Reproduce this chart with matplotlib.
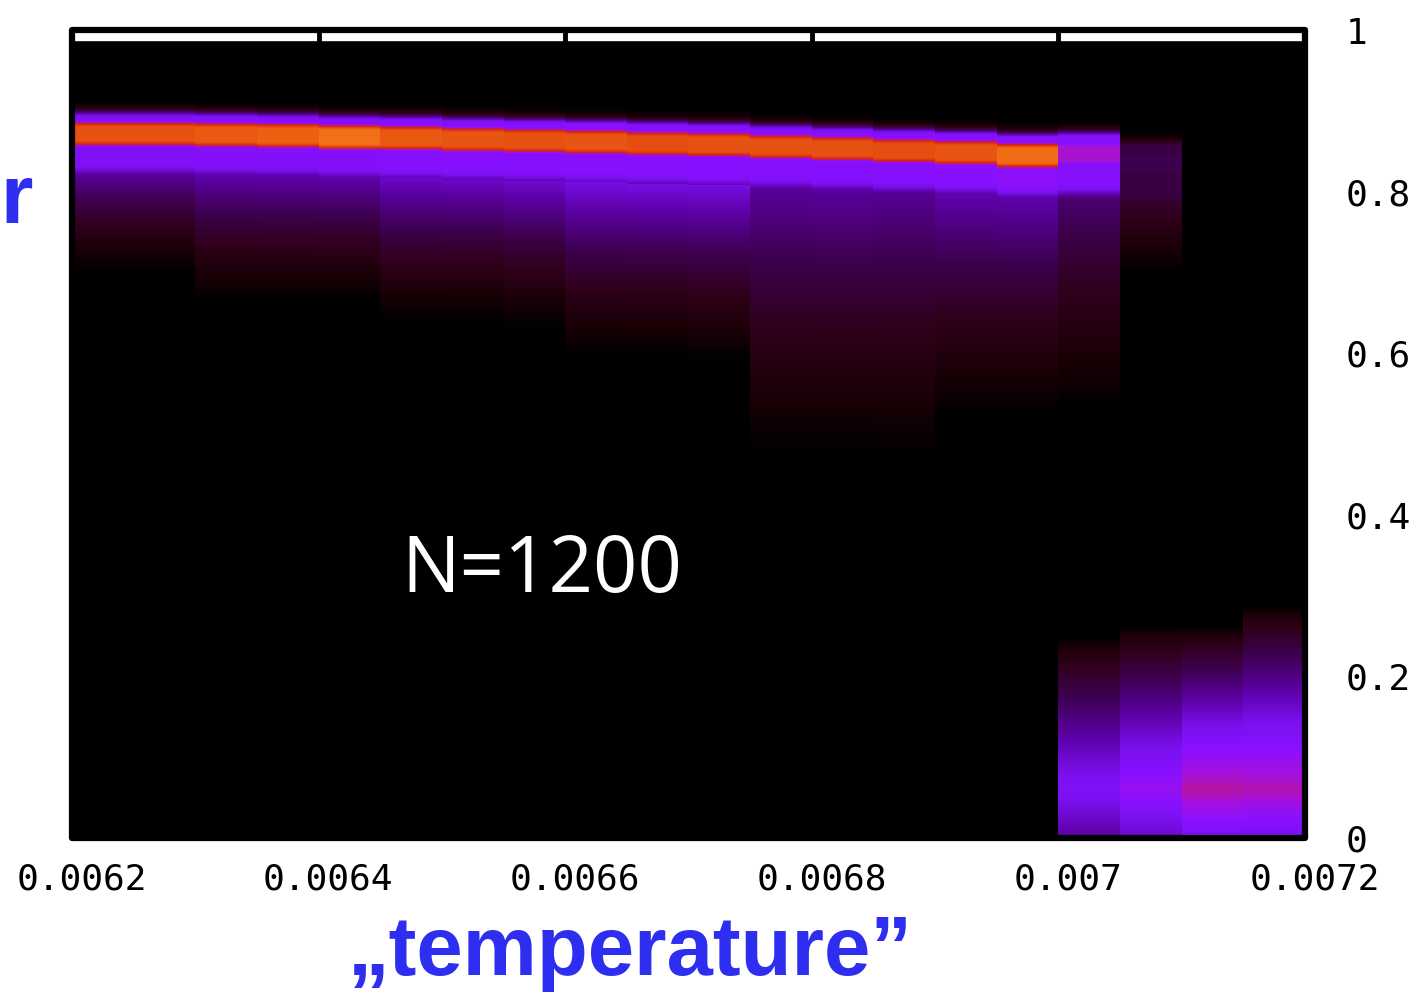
import numpy as np
import matplotlib
matplotlib.use("Agg")
import matplotlib.pyplot as plt
from matplotlib.colors import LinearSegmentedColormap
from matplotlib.patches import Rectangle
from matplotlib.transforms import ScaledTranslation

# temperature bins (20 columns of width 0.00005)
T_MIN = 0.0062
T_MAX = 0.0072
N_COLS = 20

# upper band of each column: position of the bright core, its level,
# the violet halo level, the tail level and where the tail dies out
peak_pos = [0.872, 0.872, 0.871, 0.870, 0.868, 0.867, 0.865, 0.8635, 0.862, 0.860,
            0.8586, 0.856, 0.8536, 0.851, 0.8486, 0.845, 0.847, 0.835, 0.0, 0.0]
peak_val = [0.86, 0.86, 0.88, 0.90, 0.94, 0.88, 0.87, 0.86, 0.87, 0.85,
            0.86, 0.86, 0.86, 0.85, 0.87, 0.93, 0.60, 0.28, 0.0, 0.0]
halo_val = [0.50, 0.50, 0.51, 0.51, 0.51, 0.52, 0.52, 0.52, 0.53, 0.53,
            0.53, 0.52, 0.52, 0.52, 0.53, 0.54, 0.52, 0.26, 0.0, 0.0]
tail_val = [0.38, 0.38, 0.40, 0.40, 0.40, 0.43, 0.43, 0.44, 0.46, 0.46,
            0.46, 0.38, 0.38, 0.37, 0.40, 0.40, 0.33, 0.22, 0.0, 0.0]
tail_end = [0.70, 0.70, 0.665, 0.665, 0.665, 0.64, 0.64, 0.63, 0.595, 0.595,
            0.59, 0.475, 0.475, 0.47, 0.52, 0.52, 0.53, 0.70, 0.90, 0.90]

# lower band that appears above T = 0.007
low_val = [0.0] * 16 + [0.50, 0.56, 0.63, 0.62]
low_top = [1.0] * 16 + [0.245, 0.26, 0.26, 0.285]

xticks = [0.0062, 0.0064, 0.0066, 0.0068, 0.007, 0.0072]
xtick_labels = ["0.0062", "0.0064", "0.0066", "0.0068", "0.007", "0.0072"]
yticks = [0, 0.2, 0.4, 0.6, 0.8, 1]
ytick_labels = ["0", "0.2", "0.4", "0.6", "0.8", "1"]

BLUE = "#2e2ef0"


def column_profile(j, y):
    """Intensity along r for one temperature column."""
    mu = peak_pos[j]

    # flat-topped bright core
    d = np.clip(np.abs(y - mu) - 0.008, 0, None)
    core = peak_val[j] * np.exp(-((d / 0.011) ** 2))

    # violet halo: narrow above the core, wider below it
    lo, hi = mu - 0.035, mu + 0.02
    halo = np.where(y > hi, np.exp(-(((y - hi) / 0.011) ** 2)),
                    np.where(y < lo, np.exp(-(((y - lo) / 0.03) ** 2)), 1.0))
    halo = halo_val[j] * halo

    # dim tail running down to tail_end
    top = mu - 0.05
    span = max(top - tail_end[j], 1e-6)
    tail = tail_val[j] * np.clip((y - tail_end[j]) / span, 0, 1)
    tail = np.where(y <= top, tail, 0.0)

    # lower band: rises from low_top, brightest near r = 0.06
    ltop = low_top[j]
    rise = np.clip((ltop - y) / (ltop - 0.06), 0, 1) ** 0.6
    low = low_val[j] * np.where(y > 0.06, rise, 1.0 - (0.06 - y) * 4.0)

    return np.maximum.reduce([core, halo, tail, low])


def main():
    y = np.linspace(0, 1, 801)
    grid = np.column_stack([column_profile(j, y) for j in range(N_COLS)])

    cmap = LinearSegmentedColormap.from_list(
        "hot_violet",
        [
            (0.00, "#000000"),
            (0.08, "#1a0006"),
            (0.18, "#30001c"),
            (0.28, "#3e0050"),
            (0.38, "#5a00a0"),
            (0.47, "#7a10ee"),
            (0.53, "#8a10ff"),
            (0.59, "#a410e0"),
            (0.65, "#c01880"),
            (0.71, "#d42018"),
            (0.80, "#e03a10"),
            (0.90, "#ec6012"),
            (1.00, "#f88a20"),
        ],
    )

    fig = plt.figure(figsize=(14.16, 9.94), dpi=100)
    ax = fig.add_axes([72 / 1416, 1 - 838 / 994, 1233 / 1416, 808 / 994])
    ax.set_facecolor("black")
    ax.set_axisbelow(False)

    ax.imshow(grid, origin="lower", aspect="auto", cmap=cmap, vmin=0, vmax=1,
              extent=[T_MIN, T_MAX, 0, 1], interpolation="nearest")
    ax.axhspan(0.988, 1.0, color="white", zorder=2)

    ax.set_xlim(T_MIN, T_MAX)
    ax.set_ylim(0, 1)

    for s in ax.spines.values():
        s.set_visible(False)
    frame = Rectangle((0, 0), 1, 1, transform=ax.transAxes, fill=False,
                      edgecolor="black", linewidth=4.5, joinstyle="round",
                      clip_on=False, zorder=5)
    ax.add_patch(frame)

    ax.set_xticks(xticks)
    ax.set_xticklabels(xtick_labels)
    ax.set_yticks(yticks)
    ax.set_yticklabels(ytick_labels)
    ax.tick_params(axis="x", direction="in", top=True, bottom=False,
                   length=12, width=3.5, color="black", pad=18,
                   labelsize=26)
    ax.tick_params(axis="y", direction="in", left=False, right=True,
                   labelleft=False, labelright=True, length=0,
                   pad=29, labelsize=26)
    for lab in ax.get_xticklabels() + ax.get_yticklabels():
        lab.set_fontfamily("DejaVu Sans Mono")
    shift = ScaledTranslation(7 / 72, 0, fig.dpi_scale_trans)
    for lab in ax.get_xticklabels():
        lab.set_transform(lab.get_transform() + shift)

    ax.text(0.006581, 0.305, "N=1200", color="white", fontsize=56,
            family="Open Sans", ha="center", va="baseline", zorder=6)

    fig.text(630 / 1416, 1 - 975 / 994, "\u201etemperature\u201d", color=BLUE,
             fontsize=60, fontweight="bold", family="Liberation Sans",
             ha="center", va="baseline")
    fig.text(0.0005, 1 - 223 / 994, "r", color=BLUE, fontsize=60,
             fontweight="bold", family="Liberation Sans",
             ha="left", va="baseline")

    fig.savefig("out.png", dpi=100, facecolor="white")


if __name__ == "__main__":
    main()
